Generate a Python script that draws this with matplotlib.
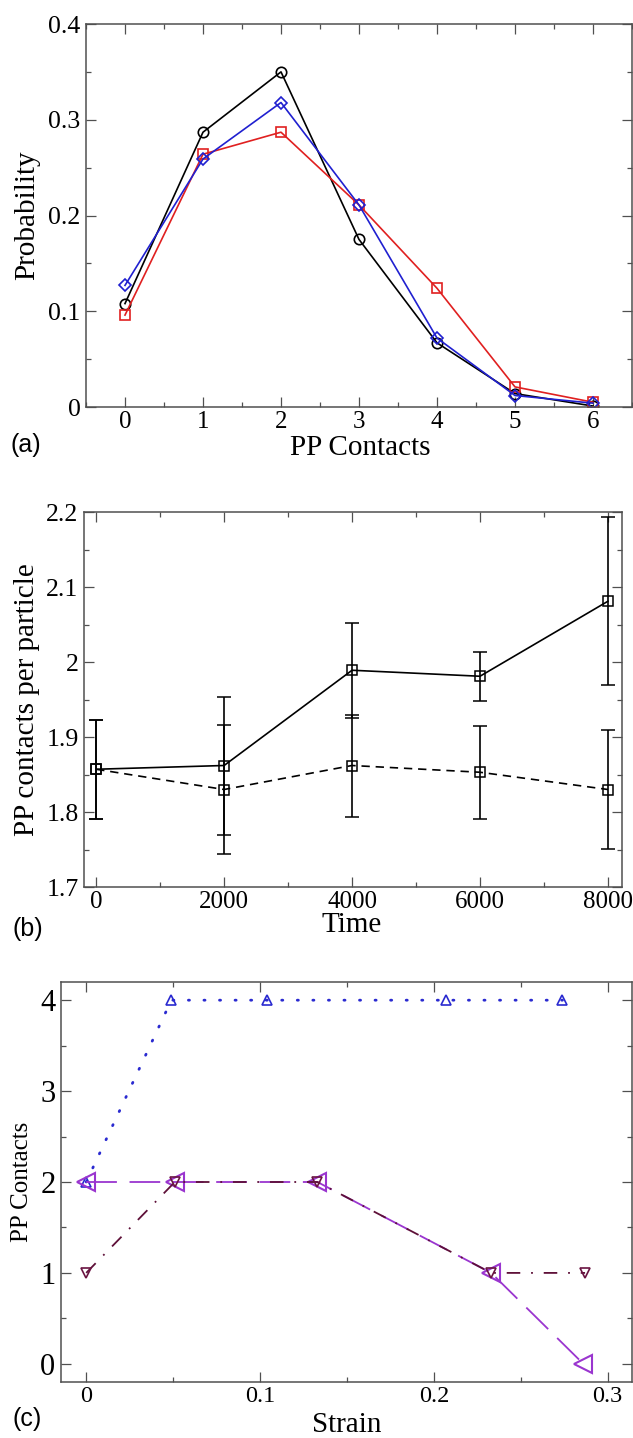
import matplotlib
matplotlib.use("Agg")
import matplotlib.pyplot as plt
from matplotlib.ticker import MultipleLocator, FuncFormatter

# ---- (a) distribution of PP contacts ----
contacts = [0, 1, 2, 3, 4, 5, 6]
prob_black = [0.108, 0.287, 0.350, 0.175, 0.067, 0.014, 0.001]
prob_red = [0.096, 0.264, 0.287, 0.211, 0.124, 0.021, 0.005]
prob_blue = [0.127, 0.259, 0.318, 0.211, 0.072, 0.012, 0.004]

# ---- (b) mean contacts per particle versus time ----
time = [0, 2000, 4000, 6000, 8000]
solid_mean = [1.857, 1.862, 1.989, 1.981, 2.081]
solid_err = [0.066, 0.092, 0.063, 0.033, 0.112]
dashed_mean = [1.857, 1.830, 1.862, 1.853, 1.830]
dashed_err = [0.066, 0.086, 0.068, 0.062, 0.079]

# ---- (c) contacts of tracked particles versus strain ----
blue_strain = [0.0, 0.049, 0.104, 0.207, 0.274]
blue_contacts = [2, 4, 4, 4, 4]
purple_strain = [0.0, 0.051, 0.133, 0.233, 0.286]
purple_contacts = [2, 2, 2, 1, 0]
maroon_strain = [0.0, 0.051, 0.133, 0.233, 0.287]
maroon_contacts = [1, 2, 2, 1, 1]

SERIF = "Liberation Serif"
SANS = "Liberation Sans"
FRAME = "#505050"

W, H = 633, 1438
fig = plt.figure(figsize=(W / 100, H / 100), dpi=100)


def axes_px(left, top, right, bottom):
    return fig.add_axes([left / W, 1 - bottom / H, (right - left) / W, (bottom - top) / H])


def style(ax, xmaj, xmin, ymaj, ymin, xsize, ysize):
    for s in ax.spines.values():
        s.set_color(FRAME)
        s.set_linewidth(1.1)
    ax.xaxis.set_major_locator(MultipleLocator(xmaj))
    ax.xaxis.set_minor_locator(MultipleLocator(xmin))
    ax.yaxis.set_major_locator(MultipleLocator(ymaj))
    ax.yaxis.set_minor_locator(MultipleLocator(ymin))
    fmt = FuncFormatter(lambda v, p: "%g" % round(v, 6))
    ax.xaxis.set_major_formatter(fmt)
    ax.yaxis.set_major_formatter(fmt)
    ax.tick_params(which="both", direction="in", top=True, right=True,
                   color=FRAME, width=0.9)
    ax.tick_params(which="major", length=7.2)
    ax.tick_params(which="minor", length=3.6)
    ax.tick_params(axis="x", which="major", pad=3, labelsize=xsize)
    ax.tick_params(axis="y", which="major", pad=4, labelsize=ysize)
    for lab in ax.get_xticklabels() + ax.get_yticklabels():
        lab.set_fontfamily(SERIF)


# ---------------- panel (a) ----------------
ax1 = axes_px(86, 24, 632, 407)
ax1.plot(contacts, prob_black, color="black", lw=1.2, marker="o", ms=7.5,
         mfc="none", mec="black", mew=1.2)
ax1.plot(contacts, prob_red, color="#e02020", lw=1.2, marker="s", ms=7,
         mfc="none", mec="#e02020", mew=1.2)
ax1.plot(contacts, prob_blue, color="#2020d0", lw=1.2, marker="D", ms=6.5,
         mfc="none", mec="#2020d0", mew=1.2)
ax1.set_xlim(-0.5, 6.5)
ax1.set_ylim(0, 0.4)
style(ax1, 1, 0.5, 0.1, 0.05, 18, 18.5)
ax1.set_xlabel("PP Contacts", fontfamily=SERIF, fontsize=21)
ax1.set_ylabel("Probability", fontfamily=SERIF, fontsize=21)
ax1.xaxis.set_label_coords(0.502, -0.072)
ax1.yaxis.set_label_coords(-0.083, 0.5)
fig.text(11 / W, 1 - 445 / H, "(a)", fontfamily=SANS, fontsize=18, va="center")

# ---------------- panel (b) ----------------
ax2 = axes_px(84, 512, 622, 887)
ax2.errorbar(time, solid_mean, yerr=solid_err, color="black", lw=1.2,
             marker="s", ms=7, mfc="none", mec="black", mew=1.1,
             capsize=5, capthick=1.2, elinewidth=1.2)
ax2.errorbar(time, dashed_mean, yerr=dashed_err, color="black", lw=1.2,
             ls=(0, (5, 3.5)), marker="s", ms=7, mfc="none", mec="black",
             mew=1.1, capsize=5, capthick=1.2, elinewidth=1.2)
ax2.set_xlim(-190, 8220)
ax2.set_ylim(1.7, 2.2)
style(ax2, 2000, 1000, 0.1, 0.05, 18, 18.5)
ax2.set_xlabel("Time", fontfamily=SERIF, fontsize=21)
ax2.set_ylabel("PP contacts per particle", fontfamily=SERIF, fontsize=21)
ax2.xaxis.set_label_coords(0.498, -0.066)
ax2.yaxis.set_label_coords(-0.081, 0.5)
fig.text(12 / W, 1 - 929 / H, "(b)", fontfamily=SANS, fontsize=18, va="center")

# ---------------- panel (c) ----------------
ax3 = axes_px(61, 982, 632, 1382)
ax3.plot(blue_strain, blue_contacts, color="#2a2ad0", lw=2.0,
         ls=(0, (0.4, 5.2)), dash_capstyle="round", marker="^", ms=6.5,
         mfc="none", mec="#2a2ad0", mew=1.2)
ax3.plot(purple_strain, purple_contacts, color="#9a35cf", lw=1.3,
         ls=(0, (17, 7)), marker="<", ms=13, mfc="none", mec="#9a35cf", mew=1.5)
ax3.plot(maroon_strain, maroon_contacts, color="#5e1038", lw=1.3,
         ls=(0, (7.5, 6, 1.0, 6)), marker="v", ms=6.5, mfc="none",
         mec="#6a1442", mew=1.2)
ax3.set_xlim(-0.0145, 0.314)
ax3.set_ylim(-0.2, 4.2)
style(ax3, 0.1, 0.05, 1, 0.5, 17.5, 22)
ax3.set_xlabel("Strain", fontfamily=SERIF, fontsize=21)
ax3.set_ylabel("PP Contacts", fontfamily=SERIF, fontsize=18)
ax3.xaxis.set_label_coords(0.50, -0.074)
ax3.yaxis.set_label_coords(-0.049, 0.5)
fig.text(12 / W, 1 - 1419 / H, "(c)", fontfamily=SANS, fontsize=18, va="center")

fig.savefig("out.png", dpi=100)
